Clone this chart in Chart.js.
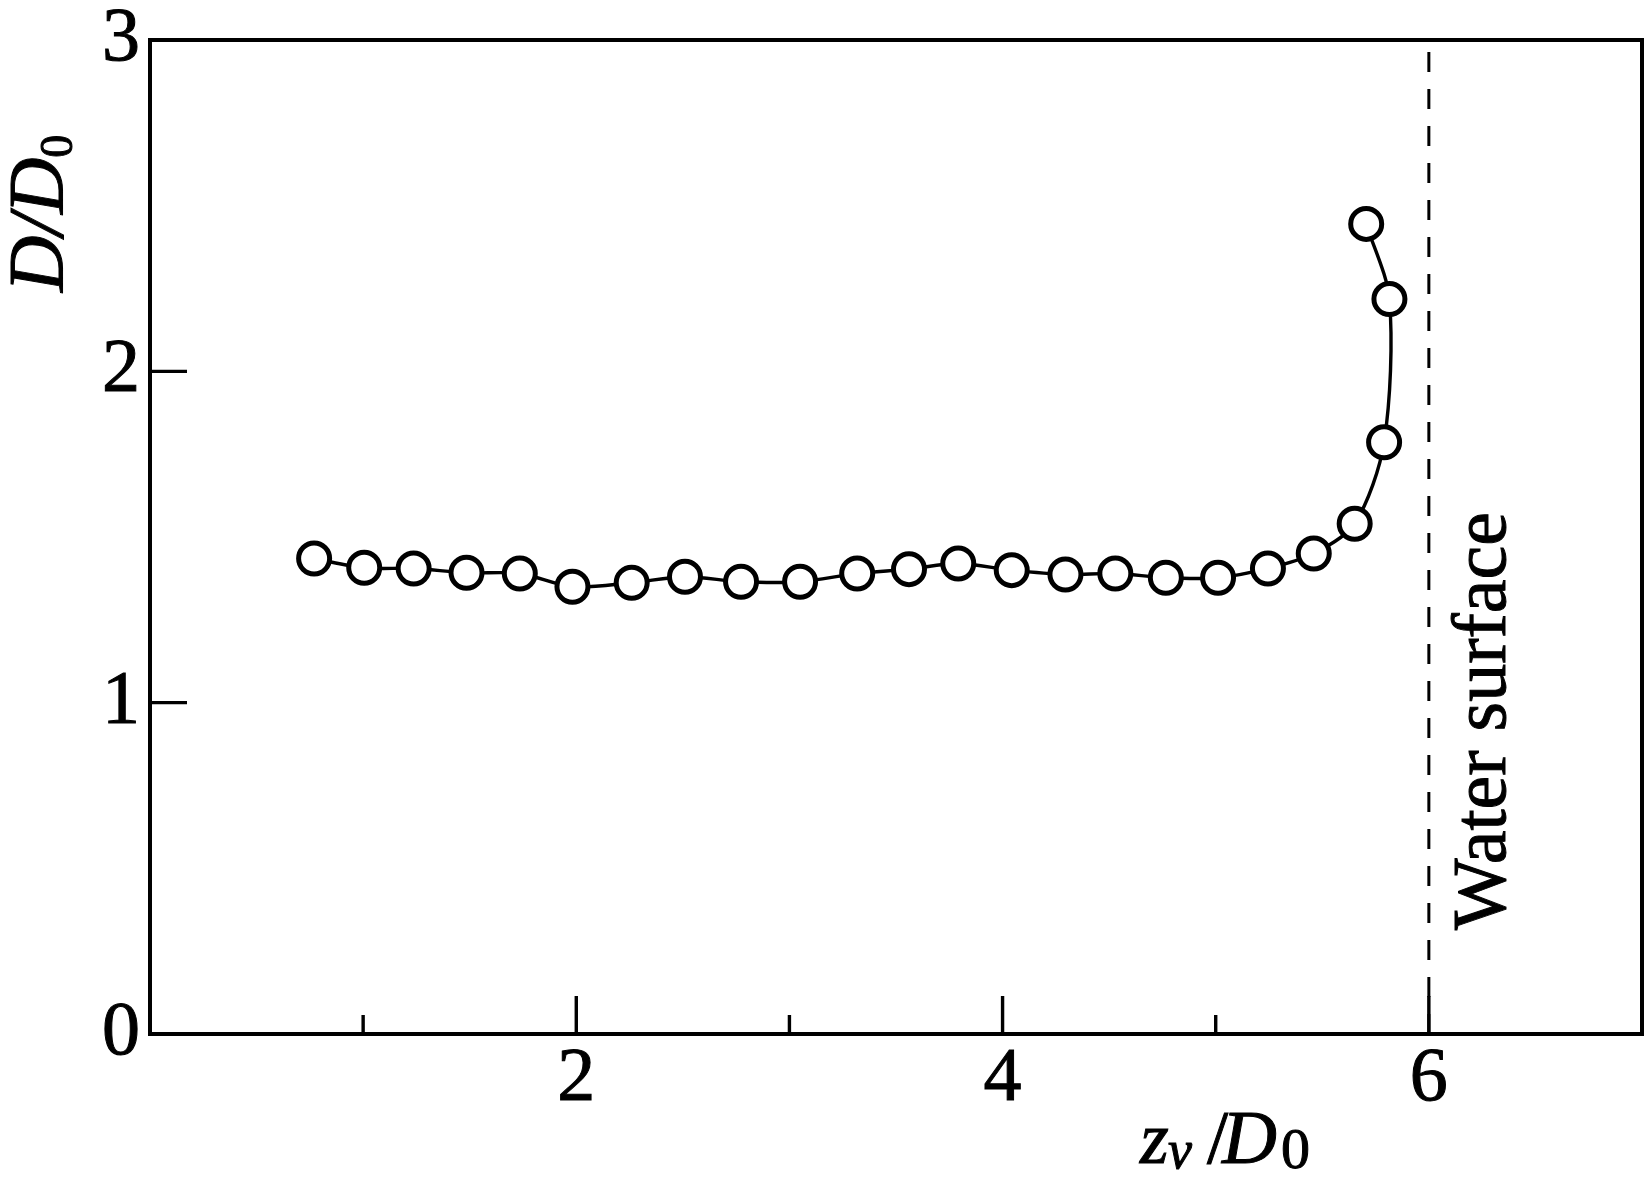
<!DOCTYPE html>
<html>
<head>
<meta charset="utf-8">
<script src="https://cdn.jsdelivr.net/npm/chart.js@4/dist/chart.umd.min.js"></script>
<style>
  html, body { margin: 0; padding: 0; background: #fff; }
  canvas { display: block; }
</style>
</head>
<body>
<canvas id="chart" width="1650" height="1184"></canvas>
<script>
// values
const zvOverD0 = [0.77, 1.005, 1.237, 1.485, 1.735, 1.982, 2.26, 2.51, 2.773, 3.05,
                  3.318, 3.561, 3.792, 4.043, 4.295, 4.529, 4.766, 5.011, 5.245, 5.46,
                  5.652, 5.79, 5.815, 5.706];
const dOverD0 = [1.435, 1.407, 1.405, 1.392, 1.39, 1.35, 1.362, 1.38, 1.365, 1.365,
                 1.39, 1.403, 1.42, 1.40, 1.387, 1.39, 1.377, 1.377, 1.405, 1.45,
                 1.54, 1.786, 2.218, 2.445];
const waterSurfaceZ = 6;
const xLabeledTicks = [2, 4, 6];
const yLabeledTicks = [0, 1, 2, 3];

const SERIF = '"Liberation Serif", "Times New Roman", Times, serif';

// keep the plot box where the reference has it
function fixBox(size, key) {
    return scale => {
        scale[key] = size;
        scale.paddingLeft = 0;
        scale.paddingRight = 0;
        scale.paddingTop = 0;
        scale.paddingBottom = 0;
    };
}

// text with a thin outline, the scanned original is a bit heavy
function heavyText(ctx, text, x, y) {
    ctx.fillText(text, x, y);
    ctx.strokeText(text, x, y);
}

// inside ticks, frame and the hand-set titles
const framePlugin = {
    id: 'frame',
    afterDraw(chart) {
        const { ctx, chartArea: a, scales } = chart;
        ctx.save();
        ctx.strokeStyle = '#000';
        ctx.lineWidth = 4;
        ctx.strokeRect(a.left, a.top, a.right - a.left, a.bottom - a.top);

        ctx.lineWidth = 3.4;
        ctx.beginPath();
        for (let v = 1; v <= 6; v++) {
            const px = scales.x.getPixelForValue(v);
            const len = xLabeledTicks.includes(v) ? 38 : 19;
            ctx.moveTo(px, a.bottom);
            ctx.lineTo(px, a.bottom - len);
        }
        [1, 2].forEach(v => {
            const py = scales.y.getPixelForValue(v);
            ctx.moveTo(a.left, py);
            ctx.lineTo(a.left + 37, py);
        });
        ctx.stroke();

        ctx.fillStyle = '#000';
        ctx.lineWidth = 1;
        ctx.textBaseline = 'alphabetic';

        // y title: D/D0, rotated
        ctx.save();
        ctx.translate(62, 292);
        ctx.rotate(-Math.PI / 2);
        let x = 0;
        const parts = [
            ['italic 78px ' + SERIF, 'D', 0],
            ['italic 78px ' + SERIF, '/', 0],
            ['italic 78px ' + SERIF, 'D', 0],
            ['46px ' + SERIF, '0', 10]
        ];
        parts.forEach(([font, text, dy]) => {
            ctx.font = font;
            heavyText(ctx, text, x, dy);
            x += ctx.measureText(text).width;
        });
        ctx.restore();

        // x title: zv /D0
        const base = 1163;
        const xparts = [
            ['italic 74px ' + SERIF, 'z', 1140, 0],
            ['italic 54px ' + SERIF, 'v', 1168, 5],
            ['76px ' + SERIF, '/', 1207, 0],
            ['italic 76px ' + SERIF, 'D', 1222, 0],
            ['58px ' + SERIF, '0', 1281, 5]
        ];
        xparts.forEach(([font, text, px, dy]) => {
            ctx.font = font;
            heavyText(ctx, text, px, base + dy);
        });

        // water surface label
        ctx.save();
        ctx.translate(1505, 721);
        ctx.rotate(-Math.PI / 2);
        ctx.font = '76px ' + SERIF;
        ctx.textAlign = 'center';
        heavyText(ctx, 'Water surface', 0, 0);
        ctx.restore();

        ctx.restore();
    }
};

const points = zvOverD0.map((z, i) => ({ x: z, y: dOverD0[i] }));

new Chart(document.getElementById('chart'), {
    type: 'scatter',
    data: {
        datasets: [{
            label: 'D/D0',
            data: points,
            showLine: true,
            tension: 0.3,
            borderColor: '#000',
            borderWidth: 3.4,
            pointRadius: 15.5,
            pointBorderWidth: 5,
            pointBorderColor: '#000',
            pointBackgroundColor: '#fff',
            order: 0
        }, {
            label: 'Water surface',
            data: [{ x: waterSurfaceZ, y: 0 }, { x: waterSurfaceZ, y: 3 }],
            showLine: true,
            borderColor: '#000',
            borderWidth: 3,
            borderDash: [20, 17],
            pointRadius: 0,
            order: 1
        }]
    },
    options: {
        responsive: false,
        animation: false,
        layout: {
            autoPadding: false,
            padding: { top: 40, right: 8, left: 0, bottom: 0 }
        },
        plugins: {
            legend: { display: false },
            tooltip: { enabled: false }
        },
        scales: {
            x: {
                type: 'linear',
                min: 0,
                max: 7,
                grid: { display: false, drawTicks: false },
                border: { display: false },
                afterFit: fixBox(150, 'height'),
                ticks: {
                    stepSize: 1,
                    autoSkip: false,
                    maxRotation: 0,
                    padding: 0,
                    color: '#000',
                    textStrokeColor: '#000',
                    textStrokeWidth: 1,
                    font: { family: SERIF, size: 76 },
                    callback: v => xLabeledTicks.includes(v) ? String(v) : ''
                }
            },
            y: {
                type: 'linear',
                min: 0,
                max: 3,
                grid: { display: false, drawTicks: false },
                border: { display: false },
                afterFit: fixBox(150, 'width'),
                ticks: {
                    stepSize: 1,
                    padding: 10,
                    color: '#000',
                    textStrokeColor: '#000',
                    textStrokeWidth: 1,
                    font: { family: SERIF, size: 76 },
                    callback: v => yLabeledTicks.includes(v) ? String(v) : ''
                }
            }
        }
    },
    plugins: [framePlugin]
});
</script>
</body>
</html>
